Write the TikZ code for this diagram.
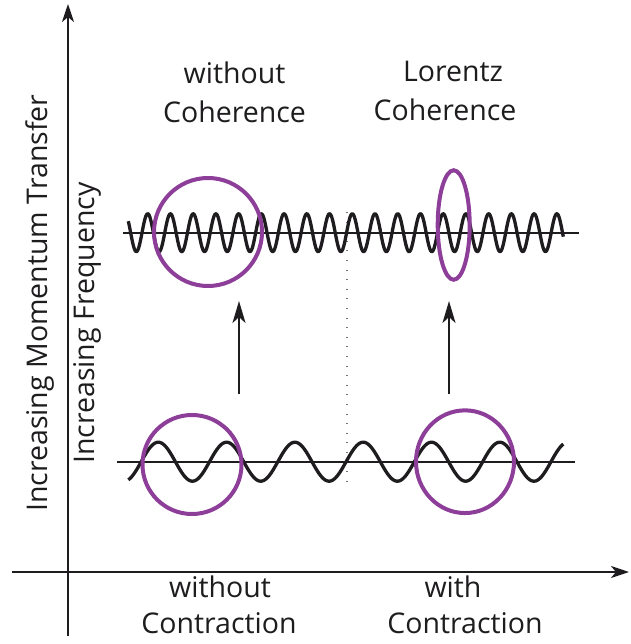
\documentclass[tikz,border=0pt]{standalone}
\usepackage{fontspec}
\setmainfont{Open Sans}
\usetikzlibrary{arrows.meta,shapes.geometric}
\definecolor{ringpurple}{RGB}{140,62,152}
\definecolor{ink}{RGB}{30,28,30}
\begin{document}
\begin{tikzpicture}[x=1pt,y=-1pt,
 axis/.style={line width=2.4pt, draw=ink, -{Stealth[length=18pt,width=12pt,inset=5pt]}},
 wave/.style={line width=3.3pt, draw=ink, line join=round},
 baseline/.style={line width=2.8pt, draw=ink},
 ring/.style={draw=ringpurple, line width=4pt, inner sep=0pt},
 lbl/.style={font=\fontsize{28.5}{38}\selectfont, text=ink, inner sep=0pt, anchor=base},
 side/.style={font=\fontsize{28.5}{38}\selectfont, text=ink, inner sep=0pt, rotate=90, anchor=base west},
 uparrow/.style={line width=2.6pt, draw=ink, -{Stealth[length=22pt,width=13pt,inset=6pt]}},
 guide/.style={line width=2.2pt, dash pattern=on 0.9pt off 8.7pt, black!55}]
\useasboundingbox (0,0) rectangle (630,644);
% axes
\coordinate (yb) at (68,636); \coordinate (yt) at (68,4);
\coordinate (xl) at (12,572); \coordinate (xr) at (629,572);
\draw[axis] (yb) -- (yt);
\draw[axis] (xl) -- (xr);
% axis labels
\node[side] (mom) at (47.5,512) {Increasing Momentum Transfer};
\node[side] (freq) at (94,464) {Increasing Frequency};
% column labels
\node[lbl] (woc1) at (234.5,83.5) {without};
\node[lbl] (woc2) at (234.5,122.5) {Coherence};
\node[lbl] (lc1) at (453,82) {Lorentz};
\node[lbl] (lc2) at (445,121) {Coherence};
\node[lbl] (wocon1) at (220,597) {without};
\node[lbl] (wocon2) at (219,633) {Contraction};
\node[lbl] (wcon1) at (453,597) {with};
\node[lbl] (wcon2) at (465,633) {Contraction};
% dotted guide
\coordinate (gt) at (347,212); \coordinate (gb) at (347,486);
\draw[guide] (gt) -- (gb);
% top wave
\coordinate (tl) at (123,233); \coordinate (tr) at (579,233);
\draw[baseline] (tl) -- (tr);
\draw[wave] plot[domain=128.3:563.3, samples=500] (\x, {232.7 - 19*cos(15.838*(\x-147.7))});
% bottom wave
\coordinate (bl) at (117,462); \coordinate (br) at (575,462);
\draw[baseline] (bl) -- (br);
\draw[wave] plot[domain=128.3:563.3, samples=300] (\x, {461.7 - 19.5*cos(5.271*(\x-158.3))});
% rings
\node[ring, circle, minimum size=108pt] (c1) at (208,232) {};
\node[ring, ellipse, minimum width=32pt, minimum height=109.5pt] (e1) at (453.7,225) {};
\node[ring, circle, minimum size=99pt] (c2) at (192,464.5) {};
\node[ring, ellipse, minimum width=98pt, minimum height=102.7pt] (c3) at (465,461.7) {};
% arrows
\coordinate (a1b) at (239,394); \coordinate (a1t) at (239,301);
\coordinate (a2b) at (449,394); \coordinate (a2t) at (449,301);
\draw[uparrow] (a1b) -- (a1t);
\draw[uparrow] (a2b) -- (a2t);
\end{tikzpicture}
\end{document}
